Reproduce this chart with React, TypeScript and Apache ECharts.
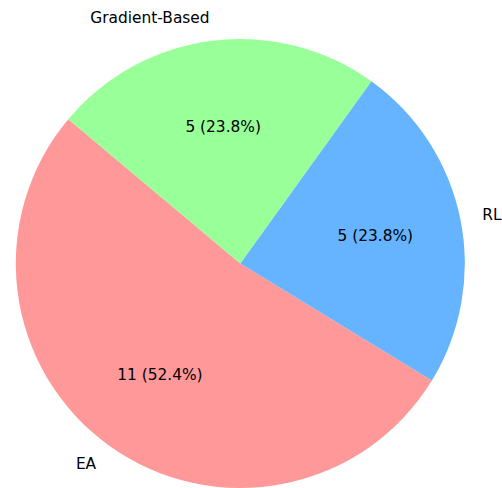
import React, { useEffect, useRef } from "react";
import * as echarts from "echarts";

const categories = ["EA", "RL", "Gradient-Based"];
const counts = [11, 5, 5];
const colors = ["#ff9999", "#66b3ff", "#99ff99"];

const CX = 240.3;
const CY = 263.5;
const R = 224.5;

export default function App() {
  const ref = useRef<HTMLDivElement>(null);
  useEffect(() => {
    if (!ref.current) return;
    const chart = echarts.init(ref.current, undefined, { renderer: "svg" });
    const total = counts.reduce((a, b) => a + b, 0);
    const data = categories.map((name, i) => ({
      name,
      value: counts[i],
      itemStyle: { color: colors[i] },
    }));
    const font = { fontFamily: "DejaVu Sans", fontSize: 15.4, color: "#000" };
    chart.setOption({
      animation: false,
      backgroundColor: "#ffffff",
      series: [
        {
          type: "pie",
          center: [CX, CY],
          radius: [0, R],
          startAngle: 140,
          clockwise: false,
          avoidLabelOverlap: false,
          silent: true,
          emphasis: { disabled: true },
          itemStyle: { borderWidth: 0 },
          label: {
            show: true,
            position: "outside",
            alignTo: "none",
            distanceToLabelLine: 0,
            formatter: "{b}",
            ...font,
          },
          labelLine: { show: false, length: R * 0.1, length2: 0 },
          data,
        },
        {
          type: "pie",
          center: [CX, CY],
          radius: [R * 0.2, R],
          startAngle: 140,
          clockwise: false,
          avoidLabelOverlap: false,
          silent: true,
          emphasis: { disabled: true },
          itemStyle: { color: "rgba(0,0,0,0)", borderWidth: 0 },
          label: {
            show: true,
            position: "inside",
            formatter: (p: any) =>
              `${p.value} (${((p.value / total) * 100).toFixed(1)}%)`,
            ...font,
          },
          labelLine: { show: false },
          data: categories.map((name, i) => ({
            name,
            value: counts[i],
            itemStyle: { color: "rgba(0,0,0,0)" },
          })),
        },
      ],
    });
    return () => chart.dispose();
  }, []);
  return (
    <div
      ref={ref}
      style={{ position: "fixed", left: 0, top: 0, width: 502, height: 488 }}
    />
  );
}
